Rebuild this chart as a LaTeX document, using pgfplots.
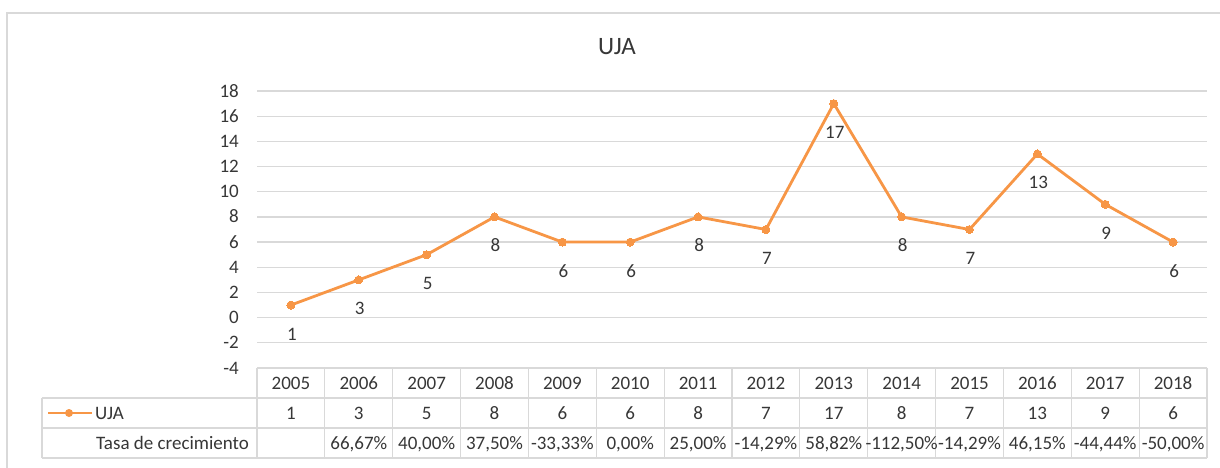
\documentclass[border=0pt]{standalone}
\usepackage{pgfplots}
\pgfplotsset{compat=1.18}
\usepackage{fontspec}
\setmainfont{Carlito}
\definecolor{uja}{RGB}{247,150,70}
\definecolor{gridc}{RGB}{217,217,217}
\definecolor{txt}{RGB}{55,55,55}
\newcommand{\fs}{\fontsize{19}{22}\selectfont}
\tikzset{tt/.style={font=\fs, text=txt, text height=12pt, text depth=0pt, inner sep=0pt}}
\begin{document}
\begin{tikzpicture}
\begin{scope}[x=1pt,y=1pt]
\useasboundingbox (0,0) rectangle (1220,467);
\fill[white] (0,0) rectangle (1220,467);
\draw[gridc, line width=1.5pt] (7,-10) -- (7,454) -- (1230,454);
\node[font=\fontsize{25}{30}\selectfont, text=txt] at (617,420) {UJA};
\end{scope}
\begin{axis}[at={(257pt,99pt)}, anchor=south west, width=950pt, height=277pt, scale only axis,
  xmin=-0.5, xmax=13.5, ymin=-4, ymax=18,
  ytick={-4,-2,0,2,4,6,8,10,12,14,16,18},
  yticklabels={-4,-2,0,2,4,6,8,10,12,14,16,18},
  xtick=\empty,
  /pgf/number format/assume math mode=true,
  axis line style={draw=none}, ymajorgrids, grid style={gridc, line width=1.2pt},
  major tick length=0pt,
  yticklabel style={tt, anchor=east, xshift=-18pt},
  clip=false]
\addplot[uja, line width=2.8pt, mark=*, mark size=4pt,
  mark options={fill=uja, draw=uja, line width=0pt},
  nodes near coords,
  every node near coord/.style={tt, anchor=center, yshift=-29pt, xshift=1pt}]
  coordinates {(0,1)(1,3)(2,5)(3,8)(4,6)(5,6)(6,8)(7,7)(8,17)(9,8)(10,7)(11,13)(12,9)(13,6)};
\end{axis}
\begin{scope}[x=1pt,y=1pt]
% data table
\def\cw{67.857}
\draw[gridc, line width=1.2pt] (257,99) -- (1207,99);
\draw[gridc, line width=1.2pt] (42,69) -- (1207,69);
\draw[gridc, line width=1.2pt] (42,39) -- (1207,39);
\draw[gridc, line width=1.2pt] (42,9) -- (1207,9);
\draw[gridc, line width=1.2pt] (42,69) -- (42,9);
\foreach \k in {0,...,14} {
  \draw[gridc, line width=1.2pt] ({257+\cw*\k},99) -- ({257+\cw*\k},9);
}
\foreach \y [count=\k from 0] in {2005,2006,2007,2008,2009,2010,2011,2012,2013,2014,2015,2016,2017,2018} {
  \node[tt] at ({257+\cw*(\k+0.5)},84) {\y};
}
\foreach \v [count=\k from 0] in {1,3,5,8,6,6,8,7,17,8,7,13,9,6} {
  \node[tt] at ({257+\cw*(\k+0.5)},54) {\v};
}
\foreach \p [count=\k from 0] in {{},{66,67\%},{40,00\%},{37,50\%},{-33,33\%},{0,00\%},{25,00\%},{-14,29\%},{58,82\%},{-112,50\%},{-14,29\%},{46,15\%},{-44,44\%},{-50,00\%}} {
  \node[tt] at ({257+\cw*(\k+0.5)},24) {\p};
}
\draw[uja, line width=2.8pt] (48,54) -- (92,54);
\fill[uja] (69,54) circle (4pt);
\node[tt, anchor=west] at (95,54) {UJA};
\node[tt, anchor=west] at (96,24) {Tasa de crecimiento};
\end{scope}
\end{tikzpicture}
\end{document}
